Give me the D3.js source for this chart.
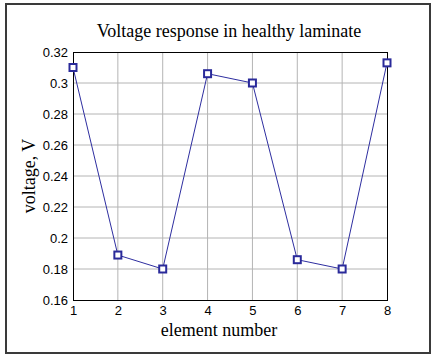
<!DOCTYPE html>
<html>
<head>
<meta charset="utf-8">
<script src="https://cdn.jsdelivr.net/npm/d3@7"></script>
<style>
	body { margin: 0; background: #fff; }
	.tick text { font-family: "Liberation Sans", Arial, sans-serif; font-size: 13px; fill: #000; }
</style>
</head>
<body>
<div id="chart"></div>
<script>
const elements = [1, 2, 3, 4, 5, 6, 7, 8];
const voltage = [0.310, 0.189, 0.180, 0.306, 0.300, 0.186, 0.180, 0.313];
const yTicks = [0.16, 0.18, 0.2, 0.22, 0.24, 0.26, 0.28, 0.3, 0.32];
const xTicks = [1, 2, 3, 4, 5, 6, 7, 8];

const width = 435, height = 361;
const plot = {left: 73, right: 387, top: 52, bottom: 300};

const svg = d3.select("#chart").append("svg")
	.attr("width", width)
	.attr("height", height);

// outer frame
svg.append("rect")
	.attr("x", 6).attr("y", 4)
	.attr("width", 424).attr("height", 349)
	.attr("fill", "#fff")
	.attr("stroke", "#3a3a3a")
	.attr("stroke-width", 2);

const x = d3.scaleLinear().domain([1, 8]).range([plot.left, plot.right]);
const y = d3.scaleLinear().domain([0.16, 0.32]).range([plot.bottom, plot.top]);

// grid
svg.append("g").selectAll("line.gx")
	.data(xTicks.slice(1, -1))
	.join("line")
	.attr("x1", d => x(d)).attr("x2", d => x(d))
	.attr("y1", plot.top).attr("y2", plot.bottom)
	.attr("stroke", "#b4b4b4");

svg.append("g").selectAll("line.gy")
	.data(yTicks.slice(1, -1))
	.join("line")
	.attr("x1", plot.left).attr("x2", plot.right)
	.attr("y1", d => y(d)).attr("y2", d => y(d))
	.attr("stroke", "#b4b4b4");

// plot box
svg.append("rect")
	.attr("x", plot.left + 0.5).attr("y", plot.top + 0.5)
	.attr("width", plot.right - plot.left).attr("height", plot.bottom - plot.top)
	.attr("fill", "none")
	.attr("stroke", "#000");

const xAxis = d3.axisBottom(x).tickValues(xTicks).tickSize(0).tickPadding(6).tickFormat(d3.format("d"));
const yAxis = d3.axisLeft(y).tickValues(yTicks).tickSize(0).tickPadding(5).tickFormat(d => String(+d.toFixed(2)));

svg.append("g")
	.attr("transform", `translate(0,${plot.bottom})`)
	.call(xAxis)
	.call(g => g.select(".domain").remove());

svg.append("g")
	.attr("transform", `translate(${plot.left},0)`)
	.call(yAxis)
	.call(g => g.select(".domain").remove());

// series
const pts = elements.map((e, i) => [e, voltage[i]]);

svg.append("path")
	.datum(pts)
	.attr("fill", "none")
	.attr("stroke", "#2e2ea0")
	.attr("stroke-width", 1)
	.attr("d", d3.line().x(d => x(d[0])).y(d => y(d[1])));

svg.append("g").selectAll("rect")
	.data(pts)
	.join("rect")
	.attr("x", d => x(d[0]) - 3.5)
	.attr("y", d => y(d[1]) - 3.5)
	.attr("width", 7).attr("height", 7)
	.attr("fill", "#fff")
	.attr("stroke", "#2a2a9a")
	.attr("stroke-width", 2);

// titles
const serif = '"Liberation Serif", "Times New Roman", serif';
svg.append("text")
	.attr("x", 229).attr("y", 37)
	.attr("text-anchor", "middle")
	.style("font-family", serif).style("font-size", "18px")
	.text("Voltage response in healthy laminate");

svg.append("text")
	.attr("x", 219).attr("y", 336)
	.attr("text-anchor", "middle")
	.style("font-family", serif).style("font-size", "18px")
	.text("element number");

svg.append("text")
	.attr("transform", `translate(35,${(plot.top + plot.bottom) / 2}) rotate(-90)`)
	.attr("text-anchor", "middle")
	.style("font-family", serif).style("font-size", "18px")
	.text("voltage, V");
</script>
</body>
</html>
